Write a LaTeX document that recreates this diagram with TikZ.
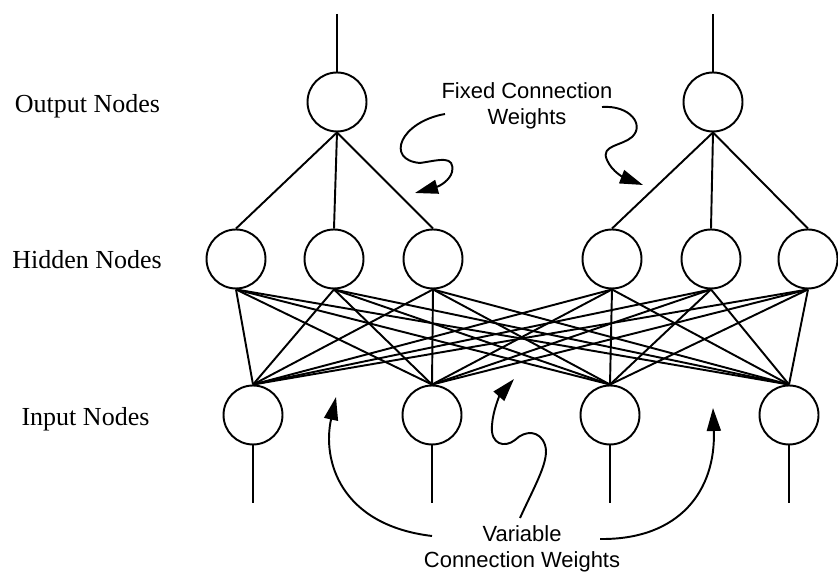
\documentclass[tikz,border=0pt]{standalone}
\usepackage{fontspec}
\setmainfont{Liberation Serif}
\newfontfamily\notesans{Liberation Sans}
\usetikzlibrary{arrows.meta}

\begin{document}
\begin{tikzpicture}[x=0.02cm, y=-0.02cm, line width=1.1pt,
		neuron/.style={circle, draw, minimum size=1.18cm, inner sep=0pt},
		layername/.style={anchor=base, font=\fontsize{14.8}{17}\selectfont},
		weightnote/.style={anchor=north, inner sep=0pt, align=center, font=\notesans\fontsize{12.5}{14.8}\selectfont},
		pointer/.style={-{Triangle[length=0.46cm, width=0.28cm]}}]
		\useasboundingbox (0,0) rectangle (838,573);

		% output layer
		\draw (337,102) node[neuron] (out1) {};
		\draw (713,102) node[neuron] (out2) {};
		\coordinate (top1) at (337,14);
		\coordinate (top2) at (713,14);

		% hidden layer
		\draw (236,259) node[neuron] (hid1) {};
		\draw (334,259) node[neuron] (hid2) {};
		\draw (433,259) node[neuron] (hid3) {};
		\draw (612,259) node[neuron] (hid4) {};
		\draw (711,259) node[neuron] (hid5) {};
		\draw (808,259) node[neuron] (hid6) {};

		% input layer
		\draw (253,415) node[neuron] (in1) {};
		\draw (432,415) node[neuron] (in2) {};
		\draw (610,415) node[neuron] (in3) {};
		\draw (789,415) node[neuron] (in4) {};
		\coordinate (foot1) at (253,503);
		\coordinate (foot2) at (432,503);
		\coordinate (foot3) at (610,503);
		\coordinate (foot4) at (789,503);

		\draw (87.5,113) node[layername] (outname) {Output Nodes};
		\draw (87,269) node[layername] (hidname) {Hidden Nodes};
		\draw (85.5,426) node[layername] (inname) {Input Nodes};

		\draw (top1) -- (out1.north);
		\draw (top2) -- (out2.north);
		\draw (out1.south) -- (hid1.north);
		\draw (out1.south) -- (hid2.north);
		\draw (out1.south) -- (hid3.north);
		\draw (out2.south) -- (hid4.north);
		\draw (out2.south) -- (hid5.north);
		\draw (out2.south) -- (hid6.north);
		\foreach \h in {1,...,6}
			\foreach \i in {1,...,4}
				\draw (hid\h.south) -- (in\i.north);
		\foreach \i in {1,...,4}
			\draw (in\i.south) -- (foot\i);

		% notes
		\draw (527,82) node[weightnote] (fixednote) {Fixed Connection\\Weights};
		\draw (522,525) node[weightnote] (varnote) {Variable\\Connection Weights};

		\draw [pointer] (445,114) .. controls (400,122) and (385,160) .. (420,163)
			.. controls (440,160) and (455,155) .. (452,172)
			.. controls (450,180) and (440,186) .. (415,193);
		\draw [pointer] (602,107) .. controls (630,105) and (645,125) .. (632,137)
			.. controls (622,146) and (600,145) .. (607,160)
			.. controls (612,172) and (625,178) .. (643,185);
		\draw [pointer] (432,536) .. controls (340,525) and (322,460) .. (336,397);
		\draw [pointer] (520,518) .. controls (535,485) and (550,460) .. (545,445)
			.. controls (540,430) and (525,430) .. (515,440)
			.. controls (505,448) and (490,445) .. (492,425)
			.. controls (493,410) and (500,395) .. (514,379);
		\draw [pointer] (600,539) .. controls (680,540) and (716,490) .. (713,408);
	\end{tikzpicture}
\end{document}
